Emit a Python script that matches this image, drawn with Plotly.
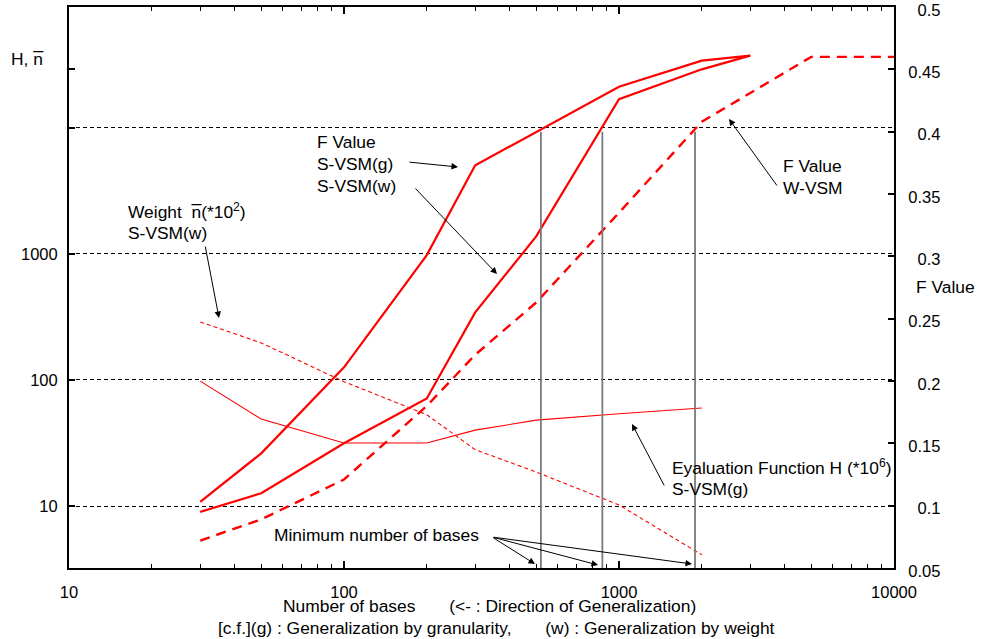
import plotly.graph_objects as go

# ---------------- data ----------------
# F value, S-VSM(g)  (right axis)
x_f_g = [30, 50, 100, 200, 300, 1000, 2000, 3000]
f_g = [0.103, 0.142, 0.211, 0.301, 0.373, 0.436, 0.457, 0.461]

# F value, S-VSM(w)  (right axis)
x_f_w = [30, 50, 100, 200, 300, 500, 1000, 2000, 3000]
f_w = [0.095, 0.110, 0.150, 0.186, 0.255, 0.316, 0.426, 0.450, 0.461]

# F value, W-VSM  (right axis, dashed)
x_f_wvsm = [30, 50, 100, 200, 300, 500, 1000, 2000, 5000, 10000]
f_wvsm = [0.072, 0.089, 0.121, 0.180, 0.221, 0.263, 0.335, 0.408, 0.460, 0.460]

# Evaluation function H (*10^6), S-VSM(g)  (left axis)
x_h = [30, 50, 100, 200, 300, 500, 1000, 2000]
h_vals = [98, 49, 31.6, 31.6, 40, 48, 54, 60]

# Weight n (*10^2), S-VSM(w)  (left axis, thin dashed)
x_n = [30, 50, 100, 200, 300, 500, 1000, 2000]
n_vals = [289, 197, 97, 53, 28, 18.6, 10.2, 4.1]

# Minimum number of bases (F = 0.4 reached)
min_bases = [520, 870, 1890]
min_f_range = [0.05, 0.4]

# axes
x_tick_vals = [10, 100, 1000, 10000]
x_tick_text = ["10", "100", "1000", "10000"]
left_tick_vals = [10, 100, 1000, 10000]
left_tick_text = ["10", "100", "1000", ""]
left_extra_tick = [29400]
right_tick_vals = [0.05, 0.1, 0.15, 0.2, 0.25, 0.3, 0.35, 0.4, 0.45, 0.5]
right_tick_text = ["0.05", "\u20070.1", "0.15", "\u20070.2", "0.25",
                   "\u20070.3", "0.35", "\u20070.4", "0.45", "\u20070.5"]

# ---------------- figure ----------------
W, H = 982, 639
L, R, T, B = 69, 894, 7, 568
FONT = "Liberation Sans, Arial, sans-serif"
RED = "#ff0000"
TXT = 17.4
TICK = 16.5
GAP = "&nbsp;" * 7


def px(x):
    return (x - L) / (R - L)


def py(y):
    return (B - y) / (B - T)


fig = go.Figure()

fig.add_trace(go.Scatter(x=x_f_g, y=f_g, yaxis="y2", mode="lines",
                         line=dict(color=RED, width=2.2)))
fig.add_trace(go.Scatter(x=x_f_w, y=f_w, yaxis="y2", mode="lines",
                         line=dict(color=RED, width=2.2)))
fig.add_trace(go.Scatter(x=x_f_wvsm, y=f_wvsm, yaxis="y2", mode="lines",
                         line=dict(color=RED, width=2.4, dash="10px,7px")))
fig.add_trace(go.Scatter(x=x_h, y=h_vals, mode="lines",
                         line=dict(color=RED, width=1.1)))
fig.add_trace(go.Scatter(x=x_n, y=n_vals, mode="lines",
                         line=dict(color=RED, width=1.1, dash="4px,3px")))
for xb in min_bases:
    fig.add_trace(go.Scatter(x=[xb, xb], y=min_f_range, yaxis="y2", mode="lines",
                             line=dict(color="#7a7a7a", width=1.8)))

annotations = []


def text_ann(s, x, y, xanchor="left"):
    annotations.append(dict(text=s, xref="paper", yref="paper", x=px(x), y=py(y),
                            xanchor=xanchor, yanchor="middle", showarrow=False,
                            font=dict(family=FONT, size=TXT, color="black")))


def arrow(tail, tip):
    annotations.append(dict(text="", xref="paper", yref="paper",
                            x=px(tip[0]), y=py(tip[1]),
                            ax=tail[0] - tip[0], ay=tail[1] - tip[1],
                            showarrow=True, arrowhead=2, arrowsize=1.3,
                            arrowwidth=1, arrowcolor="black",
                            standoff=0, startstandoff=0))


text_ann("H, n\u0305", 9, 59)
text_ann("F Value", 914, 287)

text_ann("F Value", 315, 142)
text_ann("S-VSM(g)", 315, 164)
text_ann("S-VSM(w)", 315, 186)
arrow((408, 162), (458, 167))
arrow((414, 187), (497, 274))

text_ann("Weight  n\u0305(*10<sup>2</sup>)", 126, 211)
text_ann("S-VSM(w)", 126, 233)
arrow((205, 245), (219, 318))

text_ann("F Value", 781, 166)
text_ann("W-VSM", 781, 188)
arrow((778, 187), (729, 119))

text_ann("Eyaluation Function H (*10<sup>6</sup>)", 670, 467)
text_ann("S-VSM(g)", 670, 489)
arrow((665, 487), (632, 424))

text_ann("Minimum number of bases", 272, 535)
arrow((492, 537), (535, 564))
arrow((492, 537), (598, 565))
arrow((492, 537), (692, 564))

text_ann("Number of bases" + GAP + "(<- : Direction of Generalization)", 490, 606, "center")
text_ann("[c.f.](g) : Generalization by granularity," + GAP + "(w) : Generalization by weight", 496, 628, "center")

fig.update_layout(
    width=W, height=H,
    margin=dict(l=L, r=W - R, t=T, b=H - B, autoexpand=False),
    paper_bgcolor="white", plot_bgcolor="white",
    showlegend=False,
    font=dict(family=FONT, size=TICK, color="black"),
    annotations=annotations,
    xaxis=dict(type="log", range=[1, 4], tickmode="array",
               tickvals=x_tick_vals, ticktext=x_tick_text, automargin=False,
               ticks="inside", ticklen=7, tickwidth=1.5, tickcolor="black",
               showline=True, linecolor="black", linewidth=2, mirror="ticks",
               showgrid=False, zeroline=False, ticklabelstandoff=8,
               ticklabeloverflow="allow",
               minor=dict(ticks="inside", ticklen=4, tickwidth=1.2,
                          tickcolor="black", dtick="D1", showgrid=False)),
    yaxis=dict(type="log", range=[0.508, 4.96], tickmode="array",
               tickvals=left_tick_vals, ticktext=left_tick_text, automargin=False,
               ticks="inside", ticklen=6, tickwidth=1.5, tickcolor="black",
               showline=True, linecolor="black", linewidth=2,
               showgrid=True, gridcolor="black", gridwidth=1, griddash="4px,3px",
               zeroline=False, ticklabelstandoff=6, ticklabeloverflow="allow",
               minor=dict(ticks="inside", ticklen=6, tickwidth=1.5,
                          tickcolor="black", tickmode="array",
                          tickvals=left_extra_tick, showgrid=False)),
    yaxis2=dict(overlaying="y", side="right", range=[0.05, 0.5], automargin=False,
                tickmode="array", tickvals=right_tick_vals, ticktext=right_tick_text,
                ticks="inside", ticklen=6, tickwidth=1.5, tickcolor="black",
                showline=True, linecolor="black", linewidth=2,
                showgrid=False, zeroline=False, ticklabelstandoff=9,
                ticklabelshift=3, ticklabeloverflow="allow"),
)

fig.write_html("out.html",
               config={"displayModeBar": False},
               post_script="document.body.style.margin='0px';"
                           "document.body.style.overflow='hidden';")
